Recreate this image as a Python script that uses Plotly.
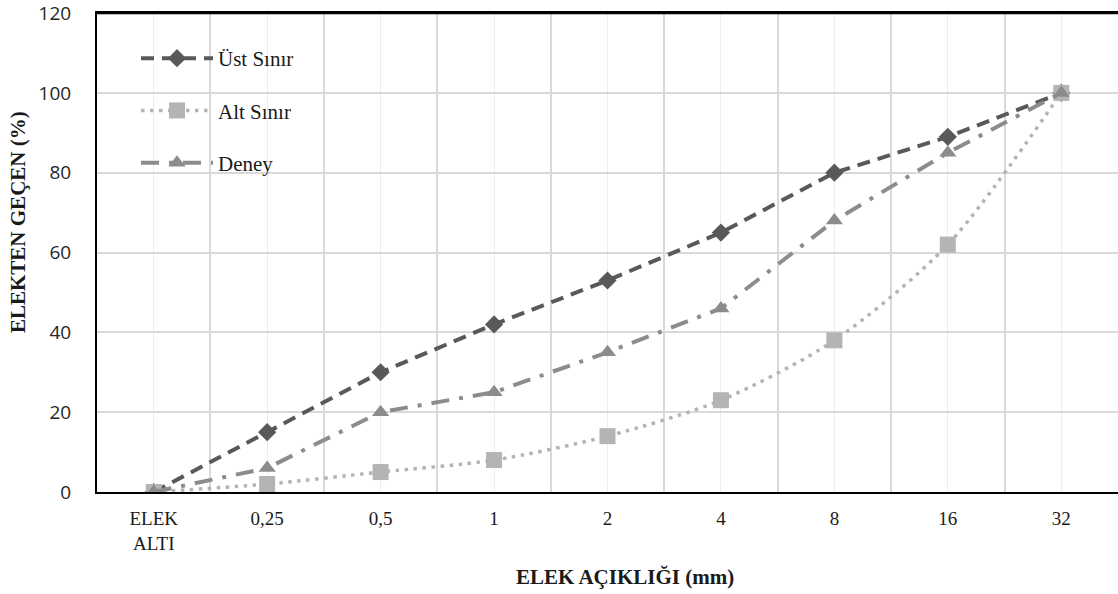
import plotly.graph_objects as go

categories = ["ELEK<br>ALTI", "0,25", "0,5", "1", "2", "4", "8", "16", "32"]
ust_sinir = [0, 15, 30, 42, 53, 65, 80, 89, 100]
alt_sinir = [0, 2, 5, 8, 14, 23, 38, 62, 100]
deney = [0, 6, 20, 25, 35, 46, 68, 85, 100]
y_ticks = [0, 20, 40, 60, 80, 100, 120]

xpos = list(range(len(categories)))

W, H = 1118, 594
L, R, T, B = 97, 0, 13, 102
PW, PH = W - L - R, H - T - B

def px_x(px):
    return (px - L) / PW

def px_y(py):
    return (H - B - py) / PH

fig = go.Figure()
fig.add_trace(go.Scatter(
    x=xpos, y=ust_sinir, name="Üst Sınır", mode="lines+markers", legendgroup="a",
    line=dict(color="#595959", width=4, dash="13px,8px"),
    marker=dict(symbol="diamond", size=14, color="#595959"),
))
fig.add_trace(go.Scatter(
    x=xpos, y=alt_sinir, name="Alt Sınır", mode="lines+markers", legendgroup="b",
    line=dict(color="#b4b4b4", width=3.5, dash="3.5px,5.5px", shape="spline", smoothing=0.8),
    marker=dict(symbol="square", size=16, color="#b4b4b4"),
))
fig.add_trace(go.Scatter(
    x=xpos, y=deney, name="Deney", mode="lines+markers", legendgroup="c",
    line=dict(color="#8c8c8c", width=4, dash="18px,10px,4px,10px"),
    marker=dict(symbol="triangle-up", size=15, color="#8c8c8c"),
))

fig.update_layout(
    width=W, height=H,
    margin=dict(l=L, r=R, t=T, b=B, autoexpand=False),
    plot_bgcolor="white", paper_bgcolor="white",
    showlegend=True,
    legend=dict(
        x=px_x(136), y=px_y(38), xanchor="left", yanchor="top",
        bgcolor="rgba(0,0,0,0)", borderwidth=0,
        font=dict(family="Liberation Serif", size=21, color="#1a1a1a"),
        tracegroupgap=22, itemwidth=72, traceorder="grouped",
    ),
    xaxis=dict(
        range=[-0.5, 8.5], tickmode="array", tickvals=xpos, ticktext=categories,
        showgrid=True, gridcolor="#ededed", gridwidth=1,
        minor=dict(tickvals=[i + 0.5 for i in range(-1, 9)], showgrid=True,
                   gridcolor="#d9d9d9", gridwidth=1.5),
        showline=True, linecolor="black", linewidth=2, mirror=True,
        ticks="", zeroline=False, automargin=False,
        tickfont=dict(family="Liberation Serif", size=19, color="#1a1a1a"),
        ticklabelstandoff=8,
    ),
    yaxis=dict(
        range=[0, 120.02], tickmode="array", tickvals=y_ticks,
        showgrid=True, gridcolor="#d9d9d9", gridwidth=1.5,
        showline=True, linecolor="black", linewidth=2, mirror=False,
        ticks="", zeroline=False, automargin=False,
        tickfont=dict(family="Open Sans", size=19, color="#262626"),
        ticklabelstandoff=20, ticklabeloverflow="allow",
    ),
    shapes=[
        dict(type="line", xref="paper", yref="paper", x0=0, x1=1, y0=1, y1=1,
             line=dict(color="black", width=2.5), layer="above"),
    ],
    annotations=[
        dict(text="<b>ELEK AÇIKLIĞI (mm)</b>", xref="paper", yref="paper",
             x=px_x(625), y=px_y(577), showarrow=False,
             font=dict(family="Liberation Serif", size=21, color="#1a1a1a"),
             xanchor="center", yanchor="middle"),
        dict(text="<b>ELEKTEN GEÇEN (%)</b>", xref="paper", yref="paper",
             x=px_x(18), y=px_y(222), showarrow=False, textangle=-90,
             font=dict(family="Liberation Serif", size=21, color="#1a1a1a"),
             xanchor="center", yanchor="middle"),
    ],
)

fig.write_html(
    "out.html",
    config={"displayModeBar": False},
    post_script="document.body.style.margin='0';document.body.style.overflow='hidden';",
)
